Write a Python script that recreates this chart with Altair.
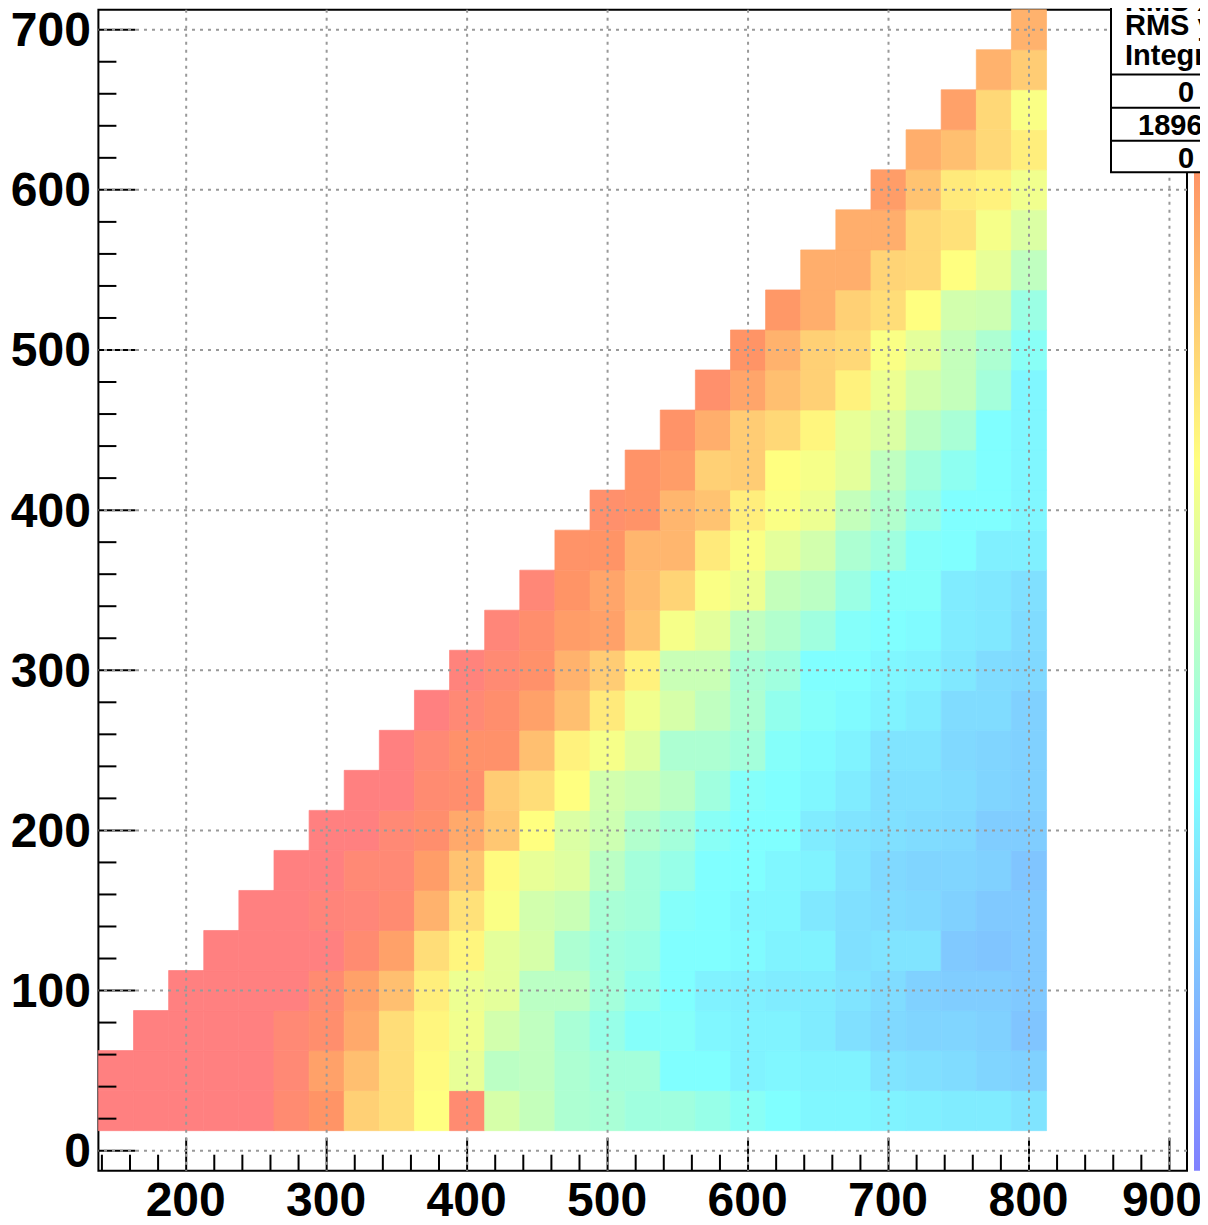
import altair as alt
import pandas as pd

FONT = "Liberation Sans"

# Column centres of the 2D histogram and the row centres
columns = list(range(150, 801, 25))
rows = list(range(25, 701, 25))

# Colour level per row, right-aligned on the last column (800)
z_025 = [100,100,100,100,100,92,86,72,69,61,92,52,48,43,42,40,40,38,35,33,31,31,30,29,28,28,26]
z_050 = [100,100,100,100,100,94,83,76,69,62,56,46,47,43,41,41,33,33,30,31,30,30,26,25,24,22,21]
z_075 = [100,100,100,100,94,90,81,69,63,58,51,47,42,38,34,34,31,30,30,28,25,23,22,22,21,18]
z_100 = [100,100,100,100,92,83,76,65,57,55,46,46,41,37,33,29.5,29,28,28,26,24,21,20,20,19]
z_125 = [100,100,100,100,92,83,69,63,55,52,43,40,39,33,33,32,30,30,25,26,26,19,18,19]
z_150 = [100,100,97,96,92,79,68,60,51,49,42,41,34,33,31,31,27,25,24,23,21,19,19]
z_175 = [100,100,94,94,84,75,62,56,54,46,41,38,33,33,31,30,26,23,22,22,21,18]
z_200 = [100,100,94,90,81,74,61,53,50,44,41,35,33,33,28,26,25,24,23,20,20]
z_225 = [100,100,92,90,73,69,61,51,49,46,40,34,33,31,28,25,25,24,22,21]
z_250 = [100,94,88,88,76,64,59,54,43,43,41,34,32,30,26,26,23,22,21]
z_275 = [100,94,90,83,76,66,58,52,47,43,37,34,32,30,28,24,24,21]
z_300 = [98,93,88,79,73,64,49,49,42,40,33,33,31,30,27,24,23]
z_325 = [96,90,84,83,75,59,55,47,44,40,34,33,32,28,27,24]
z_350 = [95,86,82,77,71,60,57,48,46,39,34,34,28,27,25]
z_375 = [87,86,78,78,66,60,55,51,43,40,34,33,29,29]
z_400 = [89,87,78,75,65,60,57,48,44,38,33,33,31]
z_425 = [87,84,72,73,61,59,55,47,41,36,33,31]
z_450 = [87,80,73,70,63,56,53,46,42,33,31]
z_475 = [89,82,76,72,64,57,51,48,41,31]
z_500 = [86,79,72,70,60,55,48,43,35]
z_525 = [85,80,72,69,61,51,50,39]
z_550 = [80,80,71,70,61,56,47]
z_575 = [80,80,70,68,59,53]
z_600 = [84,75,66,64,58]
z_625 = [80,76,70,65]
z_650 = [83,70,60]
z_675 = [79,73]
z_700 = [79]

z_rows = [z_025,z_050,z_075,z_100,z_125,z_150,z_175,z_200,z_225,z_250,z_275,z_300,z_325,z_350,
          z_375,z_400,z_425,z_450,z_475,z_500,z_525,z_550,z_575,z_600,z_625,z_650,z_675,z_700]

# Palette
pal_levels = [0, 33, 61, 86, 100]
pal_colors = ["#8080ff", "#80ffff", "#ffff80", "#ff9466", "#ff8080"]

# Axes
x_major = [200, 300, 400, 500, 600, 700, 800, 900]
y_major = [0, 100, 200, 300, 400, 500, 600, 700]
x_minor = [v for v in range(140, 900, 20) if v % 100]
y_minor = [v for v in range(20, 700, 20) if v % 100]

stat_labels = ["RMS x", "RMS y", "Integral"]
stat_values = ["0", "1896", "0"]

records = []
for yc, row in zip(rows, z_rows):
    for xc, z in zip(columns[-len(row):], row):
        records.append({"x0": xc - 12.5, "x1": xc + 12.5, "y0": yc - 12.5, "y1": yc + 12.5, "z": z})
cells_df = pd.DataFrame(records)

W, H = 1088.6, 1161
X_SCALE = alt.Scale(domain=[137.5, 912.5], nice=False, zero=False)
Y_SCALE = alt.Scale(domain=[-12.5, 712.5], nice=False, zero=False)
Z_SCALE = alt.Scale(domain=pal_levels, range=pal_colors, interpolate="rgb")

axis_style = dict(ticks=False, grid=False, domain=False, title=None, format="d",
                  labelFont=FONT, labelFontSize=48, labelFontWeight="bold", labelColor="black",
                  labelOverlap=False, labelFlush=False, labelBound=False)
X_AXIS = alt.Axis(values=x_major, labelPadding=7,
                  labelOffset=alt.expr("datum.value == 900 ? -8 : -1"), **axis_style)
Y_AXIS = alt.Axis(values=y_major, labelPadding=8, labelOffset=2, **axis_style)

palette = alt.Chart(pd.DataFrame({"a": [0]})).mark_rect(
    clip=False,
    color=alt.LinearGradient(
        gradient="linear", x1=0, x2=0, y1=1, y2=0,
        stops=[alt.GradientStop(offset=l / 100, color=c)
               for l, c in zip(pal_levels, pal_colors)]),
).encode(x=alt.value(1095.6), x2=alt.value(1125), y=alt.value(0), y2=alt.value(H))

cells = alt.Chart(cells_df).mark_rect(clip=False, strokeWidth=0.7).encode(
    x=alt.X("x0:Q", scale=X_SCALE, axis=X_AXIS),
    x2="x1:Q",
    y=alt.Y("y0:Q", scale=Y_SCALE, axis=Y_AXIS),
    y2="y1:Q",
    color=alt.Color("z:Q", legend=None, scale=Z_SCALE),
    stroke=alt.Stroke("z:Q", legend=None, scale=Z_SCALE),
)


def xticks(vals, length):
    return alt.Chart(pd.DataFrame({"v": vals})).mark_rule(color="black", strokeWidth=2).encode(
        x=alt.X("v:Q", scale=X_SCALE, axis=X_AXIS), y=alt.value(H), y2=alt.value(H - length))


def yticks(vals, length):
    return alt.Chart(pd.DataFrame({"v": vals})).mark_rule(color="black", strokeWidth=2).encode(
        y=alt.Y("v:Q", scale=Y_SCALE, axis=Y_AXIS), x=alt.value(0), x2=alt.value(length))


GRID = dict(color="#999999", strokeWidth=2, strokeDash=[3, 5])
x_grid = alt.Chart(pd.DataFrame({"v": x_major})).mark_rule(**GRID).encode(
    x=alt.X("v:Q", scale=X_SCALE, axis=X_AXIS))
y_grid = alt.Chart(pd.DataFrame({"v": y_major})).mark_rule(**GRID).encode(
    y=alt.Y("v:Q", scale=Y_SCALE, axis=Y_AXIS))

BOX_L = 1012.6
box = alt.Chart(pd.DataFrame({"a": [0]})).mark_rect(fill="white", stroke="black", strokeWidth=2).encode(
    x=alt.value(BOX_L), x2=alt.value(1200), y=alt.value(-40), y2=alt.value(162.5))
row_lines = [
    alt.Chart(pd.DataFrame({"a": [0]})).mark_rule(color="black", strokeWidth=2).encode(
        x=alt.value(BOX_L), x2=alt.value(1200), y=alt.value(p))
    for p in (64.8, 98, 131)
]


def stat_text(s, px, py, align="left"):
    return alt.Chart(pd.DataFrame({"t": [s]})).mark_text(
        font=FONT, fontWeight="bold", fontSize=29, color="black", align=align, baseline="alphabetic"
    ).encode(text="t:N", x=alt.value(px), y=alt.value(py))


texts = [stat_text(s, 1026.6, p) for s, p in zip(stat_labels, (1, 25.3, 55.3))]
texts += [
    stat_text(stat_values[0], 1087.6, 92, "center"),
    stat_text(stat_values[1], 1039.6, 125, "left"),
    stat_text(stat_values[2], 1087.6, 158, "center"),
]

chart = alt.layer(
    palette, cells,
    xticks(x_minor, 16), xticks(x_major, 33), yticks(y_minor, 18), yticks(y_major, 37),
    x_grid, y_grid, box, *row_lines, *texts,
).properties(
    width=W, height=H,
    padding={"left": 90.4, "top": 1.7, "right": 13, "bottom": 54.3},
    autosize=alt.AutoSizeParams(type="none"),
    background="white",
).configure_view(stroke="black", strokeWidth=2)

chart.save("out.html", embed_options={"renderer": "svg", "actions": False})
